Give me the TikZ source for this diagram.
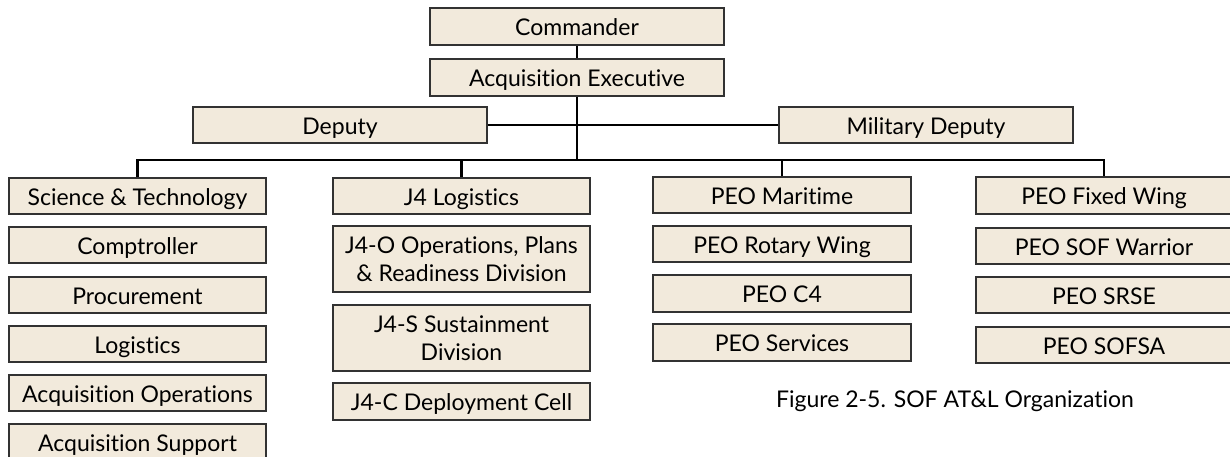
\documentclass[tikz,border=0pt]{standalone}
\usepackage{fontspec}
\setmainfont{Lato}[Ligatures=NoCommon]
\definecolor{boxfill}{RGB}{242,234,220}
\definecolor{boxline}{RGB}{50,50,50}
\tikzset{
  orgbox/.style={draw=boxline, line width=1.1pt, fill=boxfill, inner sep=0pt,
    align=center, font=\fontsize{23}{28}\selectfont, text=black},
  oneline/.style={text height=20.6pt, text depth=2pt},
  conn/.style={draw=black, line width=2.6pt}
}
\begin{document}
\begin{tikzpicture}[x=1pt,y=-1pt]
\useasboundingbox (0,0) rectangle (1230,457);
\clip (0,0) rectangle (1230,457);
% top
\node[orgbox, oneline, minimum width=294, minimum height=37] (cmd) at (577,26.5) {Commander};
\node[orgbox, oneline, minimum width=294, minimum height=37] (ae) at (577,77.5) {Acquisition Executive};
\node[orgbox, oneline, minimum width=294, minimum height=36] (dep) at (340,125) {Deputy};
\node[orgbox, oneline, minimum width=294, minimum height=36] (mdep) at (926,125) {Military Deputy};
% column 1
\node[orgbox, oneline, minimum width=257, minimum height=36] (sci) at (137.5,196) {Science \& Technology};
\node[orgbox, oneline, minimum width=257, minimum height=36] (comp) at (137.5,245) {Comptroller};
\node[orgbox, oneline, minimum width=257, minimum height=36] (proc) at (137.5,295) {Procurement};
\node[orgbox, oneline, minimum width=257, minimum height=36] (log) at (137.5,344) {Logistics};
\node[orgbox, oneline, minimum width=257, minimum height=36] (aops) at (137.5,393) {Acquisition Operations};
\node[orgbox, oneline, minimum width=257, minimum height=36] (asup) at (137.5,442) {Acquisition Support};
% column 2
\node[orgbox, oneline, minimum width=257, minimum height=36] (j4) at (461.5,196) {J4 Logistics};
\node[orgbox, minimum width=257, minimum height=66] (j4o) at (461.5,259) {J4-O Operations, Plans\\\& Readiness Division};
\node[orgbox, minimum width=257, minimum height=66] (j4s) at (461.5,338) {J4-S Sustainment\\Division};
\node[orgbox, oneline, minimum width=257, minimum height=37] (j4c) at (461.5,401.5) {J4-C Deployment Cell};
% column 3
\node[orgbox, oneline, minimum width=258, minimum height=36] (mar) at (782,195) {PEO Maritime};
\node[orgbox, oneline, minimum width=258, minimum height=36] (rot) at (782,244) {PEO Rotary Wing};
\node[orgbox, oneline, minimum width=258, minimum height=37] (c4) at (782,293.5) {PEO C4};
\node[orgbox, oneline, minimum width=258, minimum height=37] (serv) at (782,342.5) {PEO Services};
% column 4
\node[orgbox, oneline, minimum width=256, minimum height=37] (fw) at (1104,195.5) {PEO Fixed Wing};
\node[orgbox, oneline, minimum width=256, minimum height=36] (sofw) at (1104,246) {PEO SOF Warrior};
\node[orgbox, oneline, minimum width=256, minimum height=36] (srse) at (1104,295) {PEO SRSE};
\node[orgbox, oneline, minimum width=256, minimum height=36] (sofsa) at (1104,345) {PEO SOFSA};
% caption
\node[font=\fontsize{23}{28}\selectfont, inner sep=0pt, text height=20.6pt, text depth=2pt] (cap) at (955,398) {Figure 2-5. SOF AT\&L Organization};
% connectors
\coordinate (bus) at (577,160);
\draw[conn] (cmd.south) -- (ae.north);
\draw[conn] (ae.south) -- (bus);
\draw[conn] (dep.east) -- (mdep.west);
\draw[conn] (sci.north) -- (sci.north |- bus) -- (fw.north |- bus) -- (fw.north);
\draw[conn] (j4.north) -- (j4.north |- bus);
\draw[conn] (mar.north) -- (mar.north |- bus);
\end{tikzpicture}
\end{document}
